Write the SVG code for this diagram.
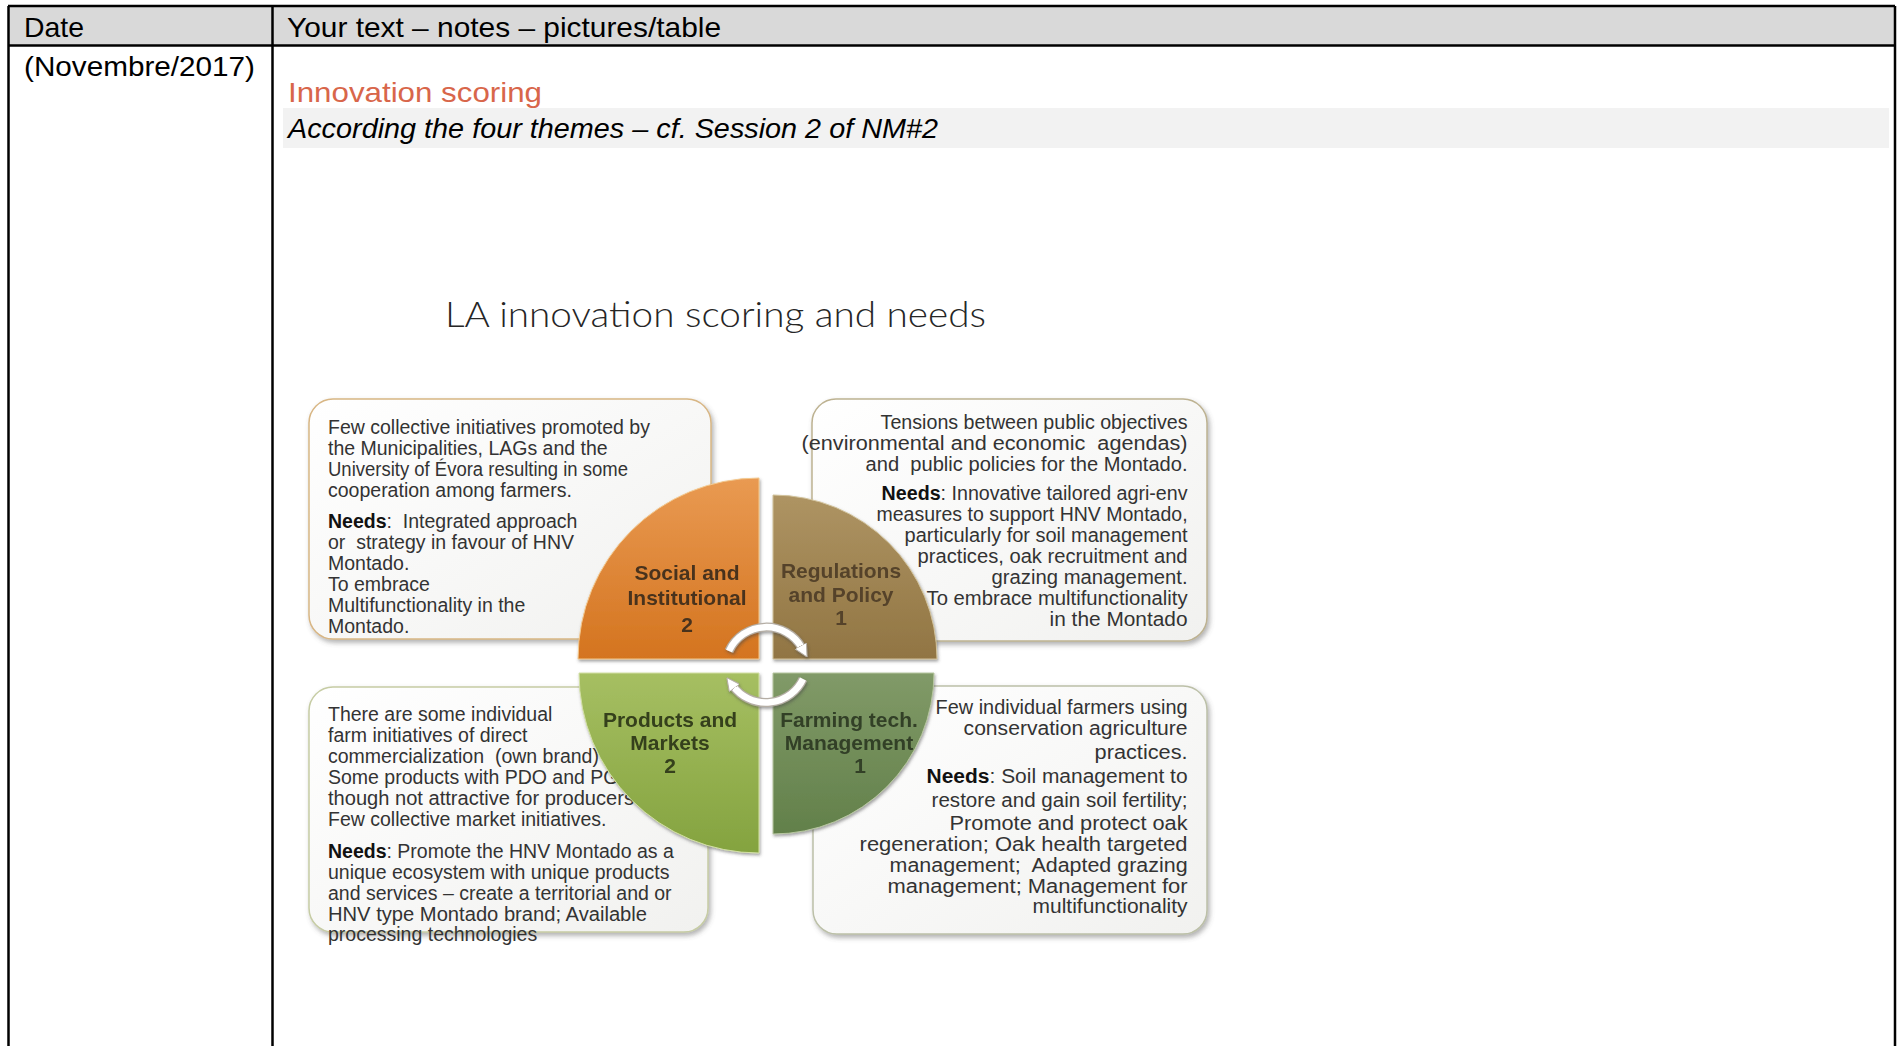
<svg xmlns="http://www.w3.org/2000/svg" width="1897" height="1046" viewBox="0 0 1897 1046">
<style>
.hdr{font-family:"Liberation Sans",Arial,sans-serif;font-size:28px;fill:#000}
.bx{font-family:"Liberation Sans",Arial,sans-serif;font-size:19.5px;fill:#333;white-space:pre}
.lbl{font-family:"Liberation Sans",Arial,sans-serif;font-size:21px;font-weight:bold;text-anchor:middle}
.b{font-weight:bold;fill:#111}
.tl{stroke:#000;stroke-width:2.5;fill:none}
.box{stroke-width:1.5}
.arr{fill:none;stroke:#ffffff;stroke-width:6.5;stroke-linecap:butt}
.arrO{fill:none;stroke:#b5aea5;stroke-width:9;stroke-linecap:butt}
</style>
<defs>
<linearGradient id="gBox" x1="0" y1="0" x2="1" y2="1">
<stop offset="0" stop-color="#ffffff"/><stop offset="1" stop-color="#f1f1ef"/>
</linearGradient>
<linearGradient id="gOr" x1="0" y1="0" x2="0" y2="1">
<stop offset="0" stop-color="#e99a52"/><stop offset="1" stop-color="#d4741f"/>
</linearGradient>
<linearGradient id="gBr" x1="0" y1="0" x2="0" y2="1">
<stop offset="0" stop-color="#ae9463"/><stop offset="1" stop-color="#917543"/>
</linearGradient>
<linearGradient id="gLg" x1="0" y1="0" x2="0" y2="1">
<stop offset="0" stop-color="#a6bf62"/><stop offset="1" stop-color="#84a33f"/>
</linearGradient>
<linearGradient id="gDg" x1="0" y1="0" x2="0" y2="1">
<stop offset="0" stop-color="#819a68"/><stop offset="1" stop-color="#62804a"/>
</linearGradient>
<filter id="sh" x="-10%" y="-10%" width="125%" height="125%">
<feDropShadow dx="2" dy="3" stdDeviation="2.5" flood-color="#555" flood-opacity="0.45"/>
</filter>
<filter id="sh2" x="-20%" y="-20%" width="140%" height="140%">
<feDropShadow dx="1" dy="2" stdDeviation="1.5" flood-color="#444" flood-opacity="0.5"/>
</filter>
<marker id="ah" viewBox="0 0 10 10" refX="2" refY="5" markerWidth="13" markerHeight="13" markerUnits="userSpaceOnUse" orient="auto">
<path d="M0,0 L10,5 L0,10 Z" fill="#ffffff" stroke="#b5aea5" stroke-width="0.8"/>
</marker>
</defs>

<rect width="1897" height="1046" fill="#ffffff"/>

<g id="table">
<rect x="8" y="6" width="1887" height="39" fill="#d9d9d9"/>
<rect x="283" y="108" width="1606" height="40" fill="#f2f2f2"/>
<line class="tl" x1="8" y1="6" x2="1895" y2="6"/>
<line class="tl" x1="8" y1="45.5" x2="1895" y2="45.5"/>
<line class="tl" x1="8.5" y1="6" x2="8.5" y2="1046"/>
<line class="tl" x1="272.5" y1="6" x2="272.5" y2="1046"/>
<line class="tl" x1="1895" y1="6" x2="1895" y2="1046"/>
<text class="hdr" x="24" y="37" textLength="60" lengthAdjust="spacingAndGlyphs">Date</text>
<text class="hdr" x="287" y="37" textLength="434" lengthAdjust="spacingAndGlyphs">Your text – notes – pictures/table</text>
<text class="hdr" x="24" y="76" textLength="231" lengthAdjust="spacingAndGlyphs">(Novembre/2017)</text>
<text class="hdr" x="288" y="102" font-size="27" style="fill:#d8664a" textLength="254" lengthAdjust="spacingAndGlyphs">Innovation scoring</text>
<text class="hdr" x="288" y="138" font-style="italic" textLength="650" lengthAdjust="spacingAndGlyphs">According the four themes – cf. Session 2 of NM#2</text>
</g>

<g id="slide-title">
<text x="445" y="327" font-family="Lato,'Liberation Sans',sans-serif" font-size="36" font-weight="300" fill="#262626" textLength="541" lengthAdjust="spacingAndGlyphs">LA innovation scoring and needs</text>
</g>

<g id="box-social">
<rect class="box" x="309" y="399" width="402" height="240" rx="24" fill="url(#gBox)" stroke="#d8b684" filter="url(#sh)"/>
<text class="bx">
<tspan x="328" y="434">Few collective initiatives promoted by</tspan>
<tspan x="328" y="455">the Municipalities, LAGs and the</tspan>
<tspan x="328" y="476" textLength="300" lengthAdjust="spacingAndGlyphs">University of Évora resulting in some</tspan>
<tspan x="328" y="497">cooperation among farmers.</tspan>
<tspan x="328" y="528"><tspan class="b">Needs</tspan>:  Integrated approach</tspan>
<tspan x="328" y="549">or  strategy in favour of HNV</tspan>
<tspan x="328" y="570">Montado.</tspan>
<tspan x="328" y="591">To embrace</tspan>
<tspan x="328" y="612">Multifunctionality in the</tspan>
<tspan x="328" y="633">Montado.</tspan>
</text>
</g>

<g id="box-regulations">
<rect class="box" x="812" y="399" width="395" height="242" rx="24" fill="url(#gBox)" stroke="#bdb291" filter="url(#sh)"/>
<text class="bx" text-anchor="end">
<tspan x="1193" y="429" textLength="307" lengthAdjust="spacingAndGlyphs">Tensions between public objectives</tspan>
<tspan x="1193" y="450" textLength="386" lengthAdjust="spacingAndGlyphs">(environmental and economic  agendas)</tspan>
<tspan x="1193" y="471" textLength="322" lengthAdjust="spacingAndGlyphs">and  public policies for the Montado.</tspan>
<tspan x="1193" y="500" textLength="306" lengthAdjust="spacingAndGlyphs"><tspan class="b">Needs</tspan>: Innovative tailored agri-env</tspan>
<tspan x="1193" y="521">measures to support HNV Montado,</tspan>
<tspan x="1193" y="542" textLength="283" lengthAdjust="spacingAndGlyphs">particularly for soil management</tspan>
<tspan x="1193" y="563" textLength="270" lengthAdjust="spacingAndGlyphs">practices, oak recruitment and</tspan>
<tspan x="1193" y="584" textLength="196" lengthAdjust="spacingAndGlyphs">grazing management.</tspan>
<tspan x="1193" y="605" textLength="261" lengthAdjust="spacingAndGlyphs">To embrace multifunctionality</tspan>
<tspan x="1193" y="626" textLength="138" lengthAdjust="spacingAndGlyphs">in the Montado</tspan>
</text>
</g>

<g id="box-products">
<rect class="box" x="309" y="687" width="399" height="245" rx="24" fill="url(#gBox)" stroke="#c6cca4" filter="url(#sh)"/>
<text class="bx">
<tspan x="328" y="721">There are some individual</tspan>
<tspan x="328" y="742">farm initiatives of direct</tspan>
<tspan x="328" y="763">commercialization  (own brand)</tspan>
<tspan x="328" y="784">Some products with PDO and PG</tspan>
<tspan x="328" y="805" textLength="306" lengthAdjust="spacingAndGlyphs">though not attractive for producers</tspan>
<tspan x="328" y="826">Few collective market initiatives.</tspan>
<tspan x="328" y="858"><tspan class="b">Needs</tspan>: Promote the HNV Montado as a</tspan>
<tspan x="328" y="879">unique ecosystem with unique products</tspan>
<tspan x="328" y="900">and services – create a territorial and or</tspan>
<tspan x="328" y="921" textLength="319" lengthAdjust="spacingAndGlyphs">HNV type Montado brand; Available</tspan>
<tspan x="328" y="941">processing technologies</tspan>
</text>
</g>

<g id="box-farming">
<rect class="box" x="813" y="686" width="394" height="248" rx="24" fill="url(#gBox)" stroke="#bcc0a8" filter="url(#sh)"/>
<text class="bx" text-anchor="end">
<tspan x="1193" y="714" textLength="252" lengthAdjust="spacingAndGlyphs">Few individual farmers using</tspan>
<tspan x="1193" y="735" textLength="224" lengthAdjust="spacingAndGlyphs">conservation agriculture</tspan>
<tspan x="1193" y="759" textLength="93" lengthAdjust="spacingAndGlyphs">practices.</tspan>
<tspan x="1193" y="783" textLength="261" lengthAdjust="spacingAndGlyphs"><tspan class="b">Needs</tspan>: Soil management to</tspan>
<tspan x="1193" y="807" textLength="256" lengthAdjust="spacingAndGlyphs">restore and gain soil fertility;</tspan>
<tspan x="1193" y="830" textLength="238" lengthAdjust="spacingAndGlyphs">Promote and protect oak</tspan>
<tspan x="1193" y="851" textLength="328" lengthAdjust="spacingAndGlyphs">regeneration; Oak health targeted</tspan>
<tspan x="1193" y="872" textLength="298" lengthAdjust="spacingAndGlyphs">management;  Adapted grazing</tspan>
<tspan x="1193" y="893" textLength="300" lengthAdjust="spacingAndGlyphs">management; Management for</tspan>
<tspan x="1193" y="913" textLength="155" lengthAdjust="spacingAndGlyphs">multifunctionality</tspan>
</text>
</g>

<g id="q-social" filter="url(#sh2)">
<path d="M759 659 L578 659 A181 181 0 0 1 759 478 Z" fill="url(#gOr)" stroke="#f3c98f" stroke-width="1"/>
<text class="lbl" fill="#48331f"><tspan x="687" y="580">Social and</tspan><tspan x="687" y="605">Institutional</tspan><tspan x="687" y="632">2</tspan></text>
</g>
<g id="q-regulations" filter="url(#sh2)">
<path d="M773 659 L773 495 A164 164 0 0 1 937 659 Z" fill="url(#gBr)" stroke="#d2c39c" stroke-width="1"/>
<text class="lbl" fill="#54432a"><tspan x="841" y="578">Regulations</tspan><tspan x="841" y="602">and Policy</tspan><tspan x="841" y="625">1</tspan></text>
</g>
<g id="q-products" filter="url(#sh2)">
<path d="M759 673 L759 853 A180 180 0 0 1 579 673 Z" fill="url(#gLg)" stroke="#d3e0a6" stroke-width="1"/>
<text class="lbl" fill="#34401b"><tspan x="670" y="727">Products and</tspan><tspan x="670" y="750">Markets</tspan><tspan x="670" y="773">2</tspan></text>
</g>
<g id="q-farming" filter="url(#sh2)">
<path d="M773 673 L934 673 A161 161 0 0 1 773 834 Z" fill="url(#gDg)" stroke="#b7c6a0" stroke-width="1"/>
<text class="lbl" fill="#323f28"><tspan x="849" y="727">Farming tech.</tspan><tspan x="849" y="750">Management</tspan><tspan x="860" y="773">1</tspan></text>
</g>

<g id="connectors" filter="url(#sh2)">
<path class="arrO" d="M729 651 A41 41 0 0 1 802 648"/>
<path class="arr" d="M729 651 A41 41 0 0 1 802 648" marker-end="url(#ah)"/>
<path class="arrO" d="M803 679 A41 41 0 0 1 733 686"/>
<path class="arr" d="M803 679 A41 41 0 0 1 733 686" marker-end="url(#ah)"/>
</g>
</svg>
